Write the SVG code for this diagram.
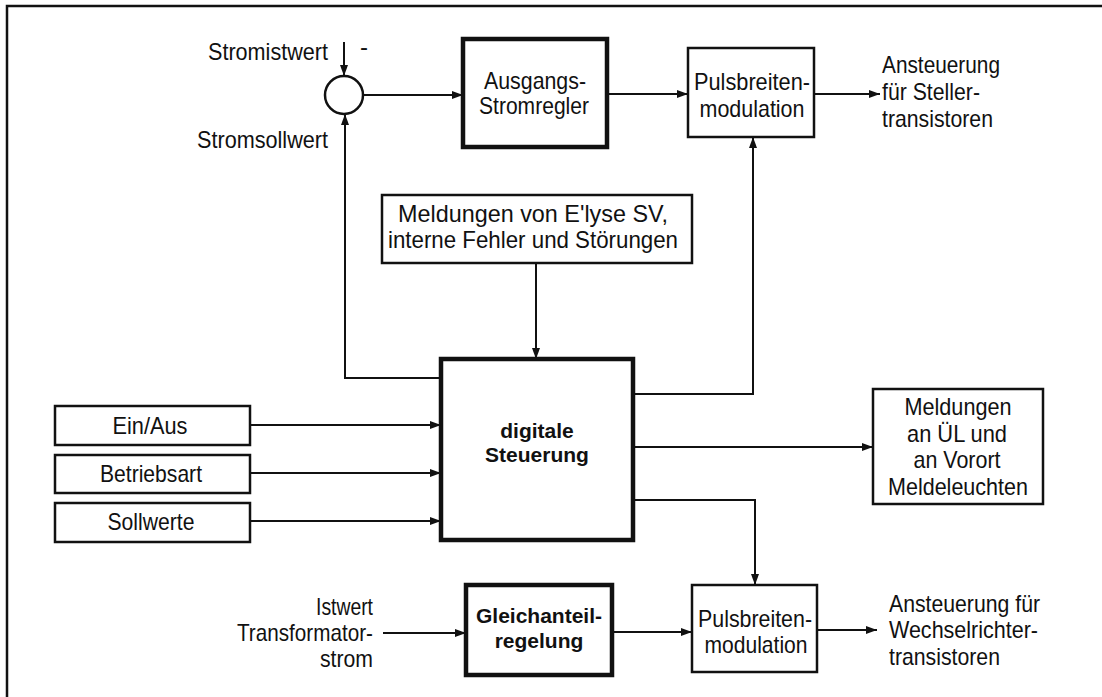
<svg xmlns="http://www.w3.org/2000/svg" width="1102" height="697" viewBox="0 0 1102 697">
  <style>
    .box { fill: #fff; stroke: #111; stroke-width: 2.5; }
    .thick { stroke-width: 4.5; }
    .lbl { font-family: "Liberation Sans", Arial, sans-serif; font-size: 24px; fill: #111; }
    .bold { font-family: "Liberation Sans", Arial, sans-serif; font-size: 21px; font-weight: bold; fill: #111; }
    .mid { text-anchor: middle; }
    .end { text-anchor: end; }
    .wire { fill: none; stroke: #111; stroke-width: 2; marker-end: url(#arrow); }
  </style>
  <defs>
    <marker id="arrow" markerUnits="userSpaceOnUse" markerWidth="12" markerHeight="10" refX="11" refY="5" orient="auto">
      <path d="M0,1 L11,5 L0,9 Z" fill="#111"/>
    </marker>
  </defs>

  <rect width="1102" height="697" fill="#fff"/>
  <!-- page frame (only top and left edges fall inside the view) -->
  <path d="M7,697 V6 H1102" fill="none" stroke="#111" stroke-width="2.5"/>

  <!-- connectors -->
  <g id="connectors">
    <path class="wire" d="M344,42 V76"/>
    <path class="wire" d="M363,95 H463"/>
    <path class="wire" d="M607,94 H688"/>
    <path class="wire" d="M814,94 H880"/>
    <path class="wire" d="M633,394 H753 V137"/>
    <path class="wire" d="M536,263 V359"/>
    <path class="wire" d="M441,378 H345 V114"/>
    <path class="wire" d="M633,447 H873"/>
    <path class="wire" d="M633,500 H755 V585"/>
    <path class="wire" d="M250,425 H441"/>
    <path class="wire" d="M250,473 H441"/>
    <path class="wire" d="M250,521 H441"/>
    <path class="wire" d="M383,633 H466"/>
    <path class="wire" d="M612,632 H692"/>
    <path class="wire" d="M817,630 H877"/>
  </g>

  <!-- summing point -->
  <g id="summing-point">
    <circle cx="344" cy="95" r="19" fill="#fff" stroke="#111" stroke-width="2.5"/>
    <text class="lbl end" x="328" y="60" textLength="120" lengthAdjust="spacingAndGlyphs">Stromistwert</text>
    <text class="lbl" x="360" y="55">-</text>
    <text class="lbl end" x="328" y="148" textLength="131" lengthAdjust="spacingAndGlyphs">Stromsollwert</text>
  </g>

  <g id="ausgangs-stromregler">
    <rect class="box thick" x="463" y="39" width="144" height="108"/>
    <text class="lbl mid" x="535" y="89" textLength="102" lengthAdjust="spacingAndGlyphs">Ausgangs-</text>
    <text class="lbl mid" x="534" y="114" textLength="110" lengthAdjust="spacingAndGlyphs">Stromregler</text>
  </g>

  <g id="pwm-steller">
    <rect class="box" x="688" y="48" width="126" height="89"/>
    <text class="lbl mid" x="752" y="90" textLength="116" lengthAdjust="spacingAndGlyphs">Pulsbreiten-</text>
    <text class="lbl mid" x="752" y="117" textLength="105" lengthAdjust="spacingAndGlyphs">modulation</text>
  </g>

  <g id="out-steller">
    <text class="lbl" x="882" y="73" textLength="118" lengthAdjust="spacingAndGlyphs">Ansteuerung</text>
    <text class="lbl" x="882" y="100" textLength="98" lengthAdjust="spacingAndGlyphs">für Steller-</text>
    <text class="lbl" x="882" y="127" textLength="111" lengthAdjust="spacingAndGlyphs">transistoren</text>
  </g>

  <g id="meldungen-elyse">
    <rect class="box" x="382" y="195" width="310" height="68" stroke-width="3"/>
    <text class="lbl mid" x="533" y="222" textLength="270" lengthAdjust="spacingAndGlyphs">Meldungen von E'lyse SV,</text>
    <text class="lbl mid" x="533" y="248" textLength="290" lengthAdjust="spacingAndGlyphs">interne Fehler und Störungen</text>
  </g>

  <g id="digitale-steuerung">
    <rect class="box thick" x="441" y="359" width="192" height="181"/>
    <text class="bold mid" x="537" y="438">digitale</text>
    <text class="bold mid" x="537" y="462">Steuerung</text>
  </g>

  <g id="meldungen-ul">
    <rect class="box" x="873" y="389" width="170" height="115"/>
    <text class="lbl mid" x="958" y="415" textLength="107" lengthAdjust="spacingAndGlyphs">Meldungen</text>
    <text class="lbl mid" x="957" y="442" textLength="100" lengthAdjust="spacingAndGlyphs">an ÜL und</text>
    <text class="lbl mid" x="957" y="468" textLength="87" lengthAdjust="spacingAndGlyphs">an Vorort</text>
    <text class="lbl mid" x="958" y="495" textLength="140" lengthAdjust="spacingAndGlyphs">Meldeleuchten</text>
  </g>

  <g id="ein-aus">
    <rect class="box" x="55" y="406" width="195" height="39" stroke-width="3"/>
    <text class="lbl mid" x="150" y="434" textLength="75" lengthAdjust="spacingAndGlyphs">Ein/Aus</text>
  </g>

  <g id="betriebsart">
    <rect class="box" x="55" y="455" width="195" height="38" stroke-width="3"/>
    <text class="lbl mid" x="151" y="482" textLength="102" lengthAdjust="spacingAndGlyphs">Betriebsart</text>
  </g>

  <g id="sollwerte">
    <rect class="box" x="55" y="503" width="195" height="39" stroke-width="3"/>
    <text class="lbl mid" x="151" y="530" textLength="87" lengthAdjust="spacingAndGlyphs">Sollwerte</text>
  </g>

  <g id="istwert">
    <text class="lbl end" x="373" y="615" textLength="57" lengthAdjust="spacingAndGlyphs">Istwert</text>
    <text class="lbl end" x="373" y="641" textLength="136" lengthAdjust="spacingAndGlyphs">Transformator-</text>
    <text class="lbl end" x="373" y="667" textLength="53" lengthAdjust="spacingAndGlyphs">strom</text>
  </g>

  <g id="gleichanteilregelung">
    <rect class="box thick" x="466" y="585" width="146" height="90"/>
    <text class="bold mid" x="539" y="623">Gleichanteil-</text>
    <text class="bold mid" x="539" y="648">regelung</text>
  </g>

  <g id="pwm-wechselrichter">
    <rect class="box" x="692" y="585" width="125" height="87"/>
    <text class="lbl mid" x="755" y="627" textLength="114" lengthAdjust="spacingAndGlyphs">Pulsbreiten-</text>
    <text class="lbl mid" x="756" y="653" textLength="103" lengthAdjust="spacingAndGlyphs">modulation</text>
  </g>

  <g id="out-wechselrichter">
    <text class="lbl" x="889" y="612" textLength="151" lengthAdjust="spacingAndGlyphs">Ansteuerung für</text>
    <text class="lbl" x="889" y="638" textLength="149" lengthAdjust="spacingAndGlyphs">Wechselrichter-</text>
    <text class="lbl" x="889" y="665" textLength="111" lengthAdjust="spacingAndGlyphs">transistoren</text>
  </g>
</svg>
